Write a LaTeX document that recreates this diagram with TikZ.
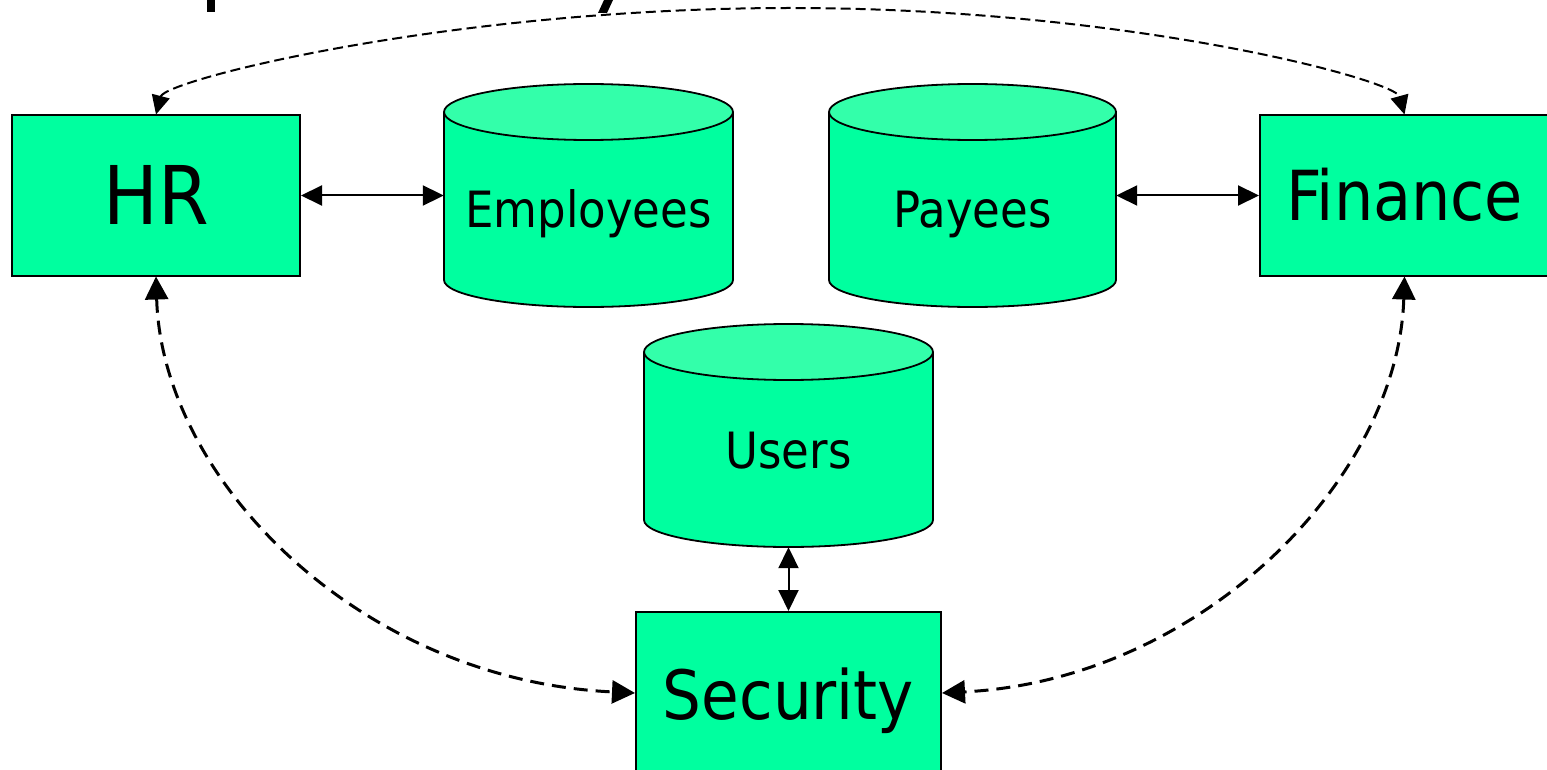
\documentclass[tikz,border=0pt]{standalone}
\usepackage{fontspec}
\setmainfont{DejaVu Sans Condensed}
\usetikzlibrary{arrows.meta}
\definecolor{boxgreen}{RGB}{0,255,159}
\definecolor{lidgreen}{RGB}{51,255,170}

\tikzset{
  procbox/.style={draw=black, line width=2pt, fill=boxgreen, inner sep=0pt, text depth=0pt},
  dbline/.style={draw=black, line width=1.8pt},
  dbframe/.style={draw=none, inner sep=0pt},
  dblabel/.style={inner sep=0pt, font=\fontsize{50}{56}\selectfont},
  twoway/.style={line width=2pt, {Triangle[length=21pt,width=20pt]}-{Triangle[length=21pt,width=20pt]}},
  bigdash/.style={line width=3pt, dash pattern=on 14pt off 8pt,
    {Triangle[length=23pt,width=23pt]}-{Triangle[length=23pt,width=23pt]}},
  topdash/.style={line width=2pt, dash pattern=on 10pt off 5pt,
    {Triangle[length=19pt,width=18pt]}-{Triangle[length=19pt,width=18pt]}},
}

% data store drum: #1 name, #2 centre x, #3 lid centre y, #4 half width, #5 label
\newcommand{\datastore}[5]{%
  \fill[boxgreen] (#2-#4,#3) -- (#2-#4,#3+168)
    arc[start angle=180, end angle=360, x radius=#4pt, y radius=27pt] -- (#2+#4,#3) -- cycle;
  \draw[dbline] (#2-#4,#3) -- (#2-#4,#3+168)
    arc[start angle=180, end angle=360, x radius=#4pt, y radius=27pt] -- (#2+#4,#3);
  \filldraw[dbline, fill=lidgreen] (#2,#3) ellipse[x radius=#4pt, y radius=28pt];
  \node[dbframe, minimum width={2*#4}, minimum height=223] (#1) at (#2,#3+83.5) {};
  \node[dblabel, anchor=base] (#1-text) at (#2,#3+116) {#5};
}

\begin{document}
\begin{tikzpicture}[x=1pt, y=-1pt]
\useasboundingbox (0,0) rectangle (1547,770);
\fill[white] (0,0) rectangle (1547,770);

% lower edges of the heading line above
\fill[black] (207,0) rectangle (215,12);
\fill[black] (604,0) -- (613,0) -- (607,13) -- (598,13) -- cycle;

% processes
\node[procbox, minimum width=288, minimum height=160, text height=59pt,
      font=\fontsize{81}{90}\selectfont] (hr) at (156,195.5) {HR};
\node[procbox, minimum width=289, minimum height=160, text height=51pt,
      font=\fontsize{69}{78}\selectfont] (fin) at (1404.5,195.5) {Finance};
\node[procbox, minimum width=305, minimum height=162, text height=52pt,
      font=\fontsize{68}{78}\selectfont] (sec) at (788.5,693) {Security};

% data stores
\datastore{emp}{588.5}{112}{144.5}{Employees}
\datastore{pay}{972.5}{112}{143.5}{Payees}
\datastore{usr}{788.5}{352}{144.5}{Users}

% direct access
\draw[twoway] (hr.east) -- (emp.west);
\draw[twoway] (pay.east) -- (fin.west);
\draw[twoway] (usr.south) -- (sec.north);

% indirect exchanges
\draw[topdash] (hr.north) .. controls (165,80) and (450,8) .. (790,8)
  .. controls (1130,8) and (1395,80) .. (fin.north);
\draw[bigdash] (hr.south) .. controls (162,480) and (360,680) .. (sec.west);
\draw[bigdash] (fin.south) .. controls (1398,480) and (1200,680) .. (sec.east);
\end{tikzpicture}
\end{document}
